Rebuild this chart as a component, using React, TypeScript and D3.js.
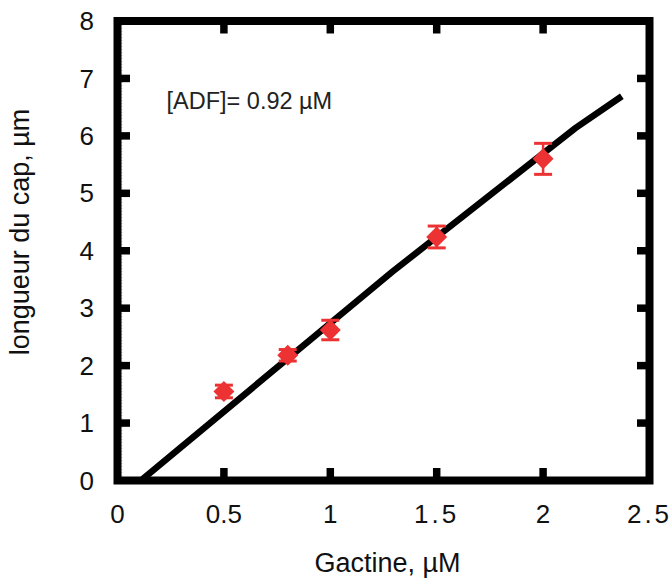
import React from "react";
import * as d3 from "d3";

const xTicks = [0, 0.5, 1, 1.5, 2, 2.5];
const yTicks = [0, 1, 2, 3, 4, 5, 6, 7, 8];
const gactine = [0.5, 0.8, 1.0, 1.5, 2.0];
const capLength = [1.55, 2.18, 2.62, 4.24, 5.6];
const capError = [0.11, 0.1, 0.17, 0.19, 0.27];
const fitX = [0.11, 1.29, 2.15, 2.37];
const fitY = [0, 3.63, 6.13, 6.69];
const xTitle = "Gactine, µM";
const yTitle = "longueur du cap, µm";
const annotation = "[ADF]= 0.92 µM";

const W = 672;
const H = 585;
const left = 117.5, right = 649.5, top = 21, bottom = 480.5;
const FONT = "'Liberation Sans', Arial, Helvetica, sans-serif";
const RED = "#ec3232";

export default function App() {
  const x = d3.scaleLinear().domain([0, 2.5]).range([left, right]);
  const y = d3.scaleLinear().domain([0, 8]).range([bottom, top]);
  const line = d3
    .line<number>()
    .x((_, i) => x(fitX[i]))
    .y((_, i) => y(fitY[i]));
  const tickLen = 12.5;
  const tw = 7.5;
  const innerX = xTicks.filter((t) => t > 0 && t < 2.5);
  const innerY = yTicks.filter((t) => t > 0 && t < 8);
  const diamond = d3.symbol().type(d3.symbolDiamond2).size(280)();

  return (
    <svg
      width={W}
      height={H}
      style={{ position: "absolute", left: 0, top: 0, background: "#fff" }}
      fontFamily={FONT}
    >
      <rect width={W} height={H} fill="#fff" />
      {/* fit line */}
      <path d={line(fitX) || ""} fill="none" stroke="#000" strokeWidth={6.5} />
      {/* data */}
      {gactine.map((g, i) => {
        const cx = x(g);
        const cy = y(capLength[i]);
        const y1 = y(capLength[i] + capError[i]);
        const y2 = y(capLength[i] - capError[i]);
        return (
          <g key={i}>
            <line x1={cx} x2={cx} y1={y1} y2={y2} stroke={RED} strokeWidth={2.5} />
            <line x1={cx - 9} x2={cx + 9} y1={y1} y2={y1} stroke={RED} strokeWidth={3} />
            <line x1={cx - 9} x2={cx + 9} y1={y2} y2={y2} stroke={RED} strokeWidth={3} />
            <path d={diamond || ""} transform={`translate(${cx},${cy})`} fill={RED} />
          </g>
        );
      })}
      {/* faint dotted inner edge */}
      <line x1={left + 4.3} x2={left + 4.3} y1={top + 4} y2={bottom - 4} stroke="#5577bb" strokeWidth={0.8} strokeDasharray="1,2" opacity={0.6} />
      {/* frame */}
      <rect x={left} y={top} width={right - left} height={bottom - top} fill="none" stroke="#000" strokeWidth={8} />
      {/* ticks */}
      {innerX.map((t) => (
        <g key={"xt" + t}>
          <line x1={x(t)} x2={x(t)} y1={bottom} y2={bottom - tickLen} stroke="#000" strokeWidth={tw} />
          <line x1={x(t)} x2={x(t)} y1={top} y2={top + tickLen} stroke="#000" strokeWidth={tw} />
        </g>
      ))}
      {innerY.map((t) => (
        <g key={"yt" + t}>
          <line x1={left} x2={left + tickLen} y1={y(t)} y2={y(t)} stroke="#000" strokeWidth={tw} />
          <line x1={right} x2={right - tickLen} y1={y(t)} y2={y(t)} stroke="#000" strokeWidth={tw} />
        </g>
      ))}
      {/* tick labels */}
      {xTicks.map((t) => (
        <text
          key={"xl" + t}
          x={x(t)}
          y={522.5}
          textAnchor="middle"
          fontSize={26}
          fill="#111"
          letterSpacing={t === 1.5 || t === 2.5 ? 3 : 0}
        >
          {String(t)}
        </text>
      ))}
      {yTicks.map((t) => (
        <text key={"yl" + t} x={94} y={y(t)} dy="0.35em" textAnchor="end" fontSize={26} fill="#111">
          {String(t)}
        </text>
      ))}
      {/* titles */}
      <text x={(left + right) / 2 + 4} y={572} textAnchor="middle" fontSize={27} fill="#111">
        {xTitle}
      </text>
      <text
        transform={`translate(29, 232) rotate(-90)`}
        textAnchor="middle"
        fontSize={27}
        fill="#111"
      >
        {yTitle}
      </text>
      <text x={166.5} y={108.5} fontSize={23.5} fill="#222">
        {annotation}
      </text>
    </svg>
  );
}
